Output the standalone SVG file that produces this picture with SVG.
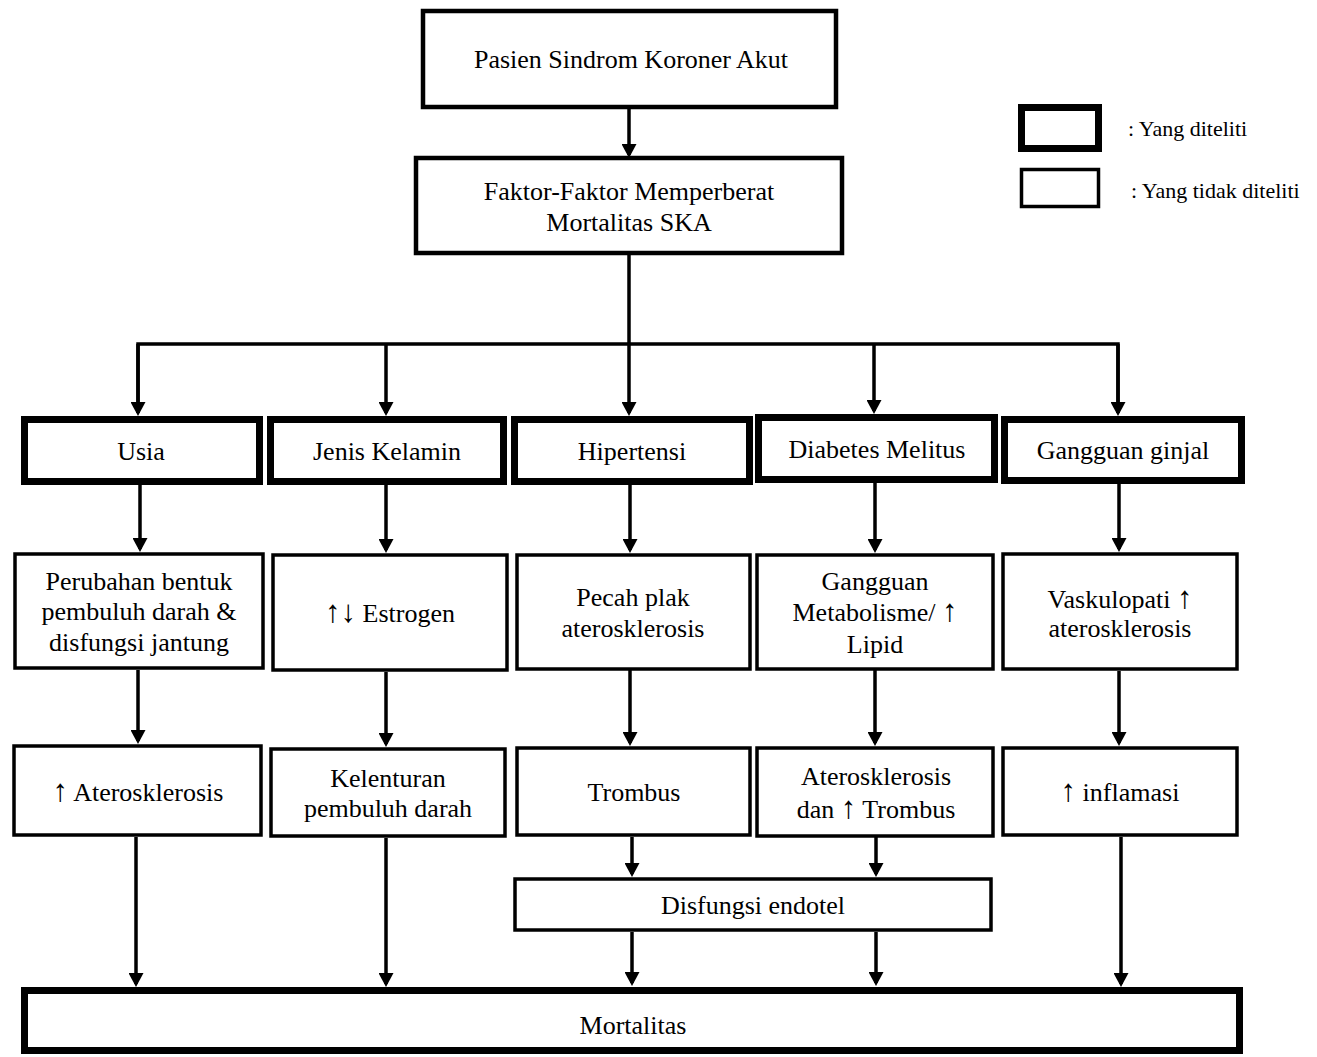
<svg xmlns="http://www.w3.org/2000/svg" width="1317" height="1057" viewBox="0 0 1317 1057">
<style>
  .bx { fill: #fff; stroke: #000; stroke-width: 3.5; }
  .tk { fill: #fff; stroke: #000; stroke-width: 7; }
  .md { fill: #fff; stroke: #000; stroke-width: 4.5; }
  text { font-family: "Liberation Serif", "Times New Roman", serif; font-size: 26px; fill: #000; text-anchor: middle; }
  .lg { font-size: 22px; text-anchor: start; }
  .ar { font-size: 31px; }
  .cn line, .cn path { stroke: #000; stroke-width: 3.5; fill: none; }
</style>
<defs>
  <marker id="ah" viewBox="0 0 14 15" refX="11" refY="7.5" markerWidth="14" markerHeight="15" markerUnits="userSpaceOnUse" orient="auto">
    <path d="M0,0 L14,7.5 L0,15 Z" fill="#000"/>
  </marker>
</defs>

<g class="cn" id="connectors">
  <line x1="629" y1="108" x2="629" y2="155" marker-end="url(#ah)"/>
  <line x1="629" y1="254" x2="629" y2="413" marker-end="url(#ah)"/>
  <path d="M138,413 V344 H1118 V413" />
  <line x1="138" y1="344" x2="138" y2="413" marker-end="url(#ah)"/>
  <line x1="386" y1="344" x2="386" y2="413" marker-end="url(#ah)"/>
  <line x1="874" y1="344" x2="874" y2="411" marker-end="url(#ah)"/>
  <line x1="1118" y1="344" x2="1118" y2="413" marker-end="url(#ah)"/>

  <line x1="140" y1="485" x2="140" y2="549" marker-end="url(#ah)"/>
  <line x1="386" y1="485" x2="386" y2="550" marker-end="url(#ah)"/>
  <line x1="630" y1="485" x2="630" y2="550" marker-end="url(#ah)"/>
  <line x1="875" y1="483" x2="875" y2="550" marker-end="url(#ah)"/>
  <line x1="1119" y1="484" x2="1119" y2="549" marker-end="url(#ah)"/>

  <line x1="138" y1="670" x2="138" y2="741" marker-end="url(#ah)"/>
  <line x1="386" y1="672" x2="386" y2="744" marker-end="url(#ah)"/>
  <line x1="630" y1="670" x2="630" y2="743" marker-end="url(#ah)"/>
  <line x1="875" y1="670" x2="875" y2="743" marker-end="url(#ah)"/>
  <line x1="1119" y1="671" x2="1119" y2="743" marker-end="url(#ah)"/>

  <line x1="632" y1="837" x2="632" y2="874" marker-end="url(#ah)"/>
  <line x1="876" y1="837" x2="876" y2="874" marker-end="url(#ah)"/>
  <line x1="632" y1="932" x2="632" y2="983" marker-end="url(#ah)"/>
  <line x1="876" y1="932" x2="876" y2="983" marker-end="url(#ah)"/>

  <line x1="136" y1="837" x2="136" y2="984" marker-end="url(#ah)"/>
  <line x1="386" y1="838" x2="386" y2="984" marker-end="url(#ah)"/>
  <line x1="1121" y1="837" x2="1121" y2="984" marker-end="url(#ah)"/>
</g>

<g id="n-pasien">
  <rect class="md" x="423" y="11" width="413" height="96"/>
  <text x="631" y="68">Pasien Sindrom Koroner Akut</text>
</g>
<g id="n-faktor">
  <rect class="md" x="416" y="158" width="426" height="95"/>
  <text x="629" y="200">Faktor-Faktor Memperberat</text>
  <text x="629" y="231">Mortalitas SKA</text>
</g>

<g id="legend">
  <rect class="tk" x="1021.5" y="107.5" width="77" height="41"/>
  <text class="lg" x="1128" y="136">: Yang diteliti</text>
  <rect class="bx" x="1021.5" y="169.5" width="77" height="37"/>
  <text class="lg" x="1131" y="198">: Yang tidak diteliti</text>
</g>

<g id="n-usia">
  <rect class="tk" x="24.5" y="419.5" width="235" height="62"/>
  <text x="141" y="460">Usia</text>
</g>
<g id="n-jenis">
  <rect class="tk" x="270.5" y="419.5" width="233" height="62"/>
  <text x="387" y="460">Jenis Kelamin</text>
</g>
<g id="n-hipertensi">
  <rect class="tk" x="514.5" y="419.5" width="235" height="62"/>
  <text x="632" y="460">Hipertensi</text>
</g>
<g id="n-diabetes">
  <rect class="tk" x="758.5" y="417.5" width="236" height="62"/>
  <text x="877" y="458">Diabetes Melitus</text>
</g>
<g id="n-ginjal">
  <rect class="tk" x="1004.5" y="419.5" width="237" height="61"/>
  <text x="1123" y="459">Gangguan ginjal</text>
</g>

<g id="n-perubahan">
  <rect class="bx" x="15" y="554" width="248" height="114"/>
  <text x="139" y="590">Perubahan bentuk</text>
  <text x="139" y="620">pembuluh darah &amp;</text>
  <text x="139" y="651">disfungsi jantung</text>
</g>
<g id="n-estrogen">
  <rect class="bx" x="273" y="555" width="234" height="115"/>
  <text x="390" y="622"><tspan class="ar">↑↓</tspan> Estrogen</text>
</g>
<g id="n-pecah">
  <rect class="bx" x="517" y="555" width="233" height="114"/>
  <text x="633" y="606">Pecah plak</text>
  <text x="633" y="637">aterosklerosis</text>
</g>
<g id="n-metabolisme">
  <rect class="bx" x="757" y="555" width="236" height="114"/>
  <text x="875" y="590">Gangguan</text>
  <text x="875" y="621">Metabolisme/ <tspan class="ar">↑</tspan></text>
  <text x="875" y="653">Lipid</text>
</g>
<g id="n-vaskulopati">
  <rect class="bx" x="1003" y="554" width="234" height="115"/>
  <text x="1120" y="608">Vaskulopati <tspan class="ar">↑</tspan></text>
  <text x="1120" y="637">aterosklerosis</text>
</g>

<g id="n-ateros1">
  <rect class="bx" x="14" y="746" width="247" height="89"/>
  <text x="138" y="801"><tspan class="ar">↑</tspan> Aterosklerosis</text>
</g>
<g id="n-kelenturan">
  <rect class="bx" x="271" y="749" width="234" height="87"/>
  <text x="388" y="787">Kelenturan</text>
  <text x="388" y="817">pembuluh darah</text>
</g>
<g id="n-trombus">
  <rect class="bx" x="517" y="748" width="233" height="87"/>
  <text x="634" y="801">Trombus</text>
</g>
<g id="n-ateros2">
  <rect class="bx" x="757" y="748" width="236" height="88"/>
  <text x="876" y="785">Aterosklerosis</text>
  <text x="876" y="818">dan <tspan class="ar">↑</tspan> Trombus</text>
</g>
<g id="n-inflamasi">
  <rect class="bx" x="1003" y="748" width="234" height="87"/>
  <text x="1120" y="801"><tspan class="ar">↑</tspan> inflamasi</text>
</g>

<g id="n-disfungsi">
  <rect class="bx" x="515" y="879" width="476" height="51"/>
  <text x="753" y="914">Disfungsi endotel</text>
</g>

<g id="n-mortalitas">
  <rect class="tk" x="24.5" y="990.5" width="1215" height="60"/>
  <text x="633" y="1034">Mortalitas</text>
</g>
</svg>
